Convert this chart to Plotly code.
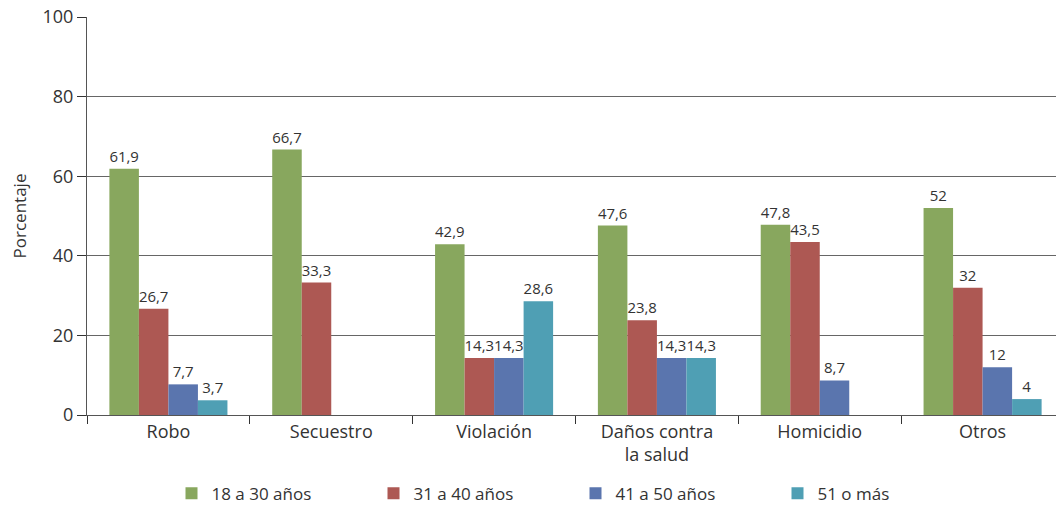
import plotly.graph_objects as go

categories = ["Robo", "Secuestro", "Violación", "Daños contra<br>la salud", "Homicidio", "Otros"]
series_names = ["18 a 30 años", "31 a 40 años", "41 a 50 años", "51 o más"]
s18_30 = [61.9, 66.7, 42.9, 47.6, 47.8, 52]
s31_40 = [26.7, 33.3, 14.3, 23.8, 43.5, 32]
s41_50 = [7.7, None, 14.3, 14.3, 8.7, 12]
s51 = [3.7, None, 28.6, 14.3, None, 4]
y_ticks = [0, 20, 40, 60, 80, 100]

colors = ["#88a75e", "#ad5853", "#5a75ae", "#4f9fb4"]

FONT = "Open Sans"
TXT = "#333333"


def fmt(v):
    if v is None:
        return ""
    return ("%g" % v).replace(".", ",")


fig = go.Figure()
for name, vals, c in zip(series_names, [s18_30, s31_40, s41_50, s51], colors):
    fig.add_trace(go.Bar(
        x=categories, y=vals, name=name,
        marker=dict(color=c, line=dict(width=0)),
        text=[fmt(v) for v in vals], textposition="outside", textangle=0,
        textfont=dict(size=15, color=TXT, family=FONT),
        cliponaxis=False,
    ))

# page body has an 8px margin, so the figure is drawn 8px right/down
fig.update_layout(
    width=1056, height=499,
    margin=dict(l=79, r=0, t=9, b=92, autoexpand=False),
    barmode="group", bargap=0.275, bargroupgap=0,
    plot_bgcolor="white", paper_bgcolor="white",
    font=dict(family=FONT, size=15, color=TXT),
    showlegend=True,
    legend=dict(orientation="h", x=0.5, xanchor="center", y=-0.198, yanchor="middle",
                entrywidth=157, font=dict(size=17, color=TXT), traceorder="normal"),
    xaxis=dict(showline=True, linecolor="#555555", ticks="outside", tickson="boundaries",
               ticklen=8, tickcolor="#333333", tickfont=dict(size=18, color=TXT), automargin=False),
    yaxis=dict(range=[0, 100.02], tickvals=y_ticks, showgrid=True, gridcolor="#666666", gridwidth=1,
               showline=True, linecolor="#555555", ticks="outside", ticklen=9, tickcolor="#333333",
               tickfont=dict(size=18, color=TXT), zeroline=False, automargin=False,
               ticklabeloverflow="allow",
               title=dict(text="Porcentaje", font=dict(size=17, color=TXT), standoff=22)),
)

fig.write_html("out.html")
